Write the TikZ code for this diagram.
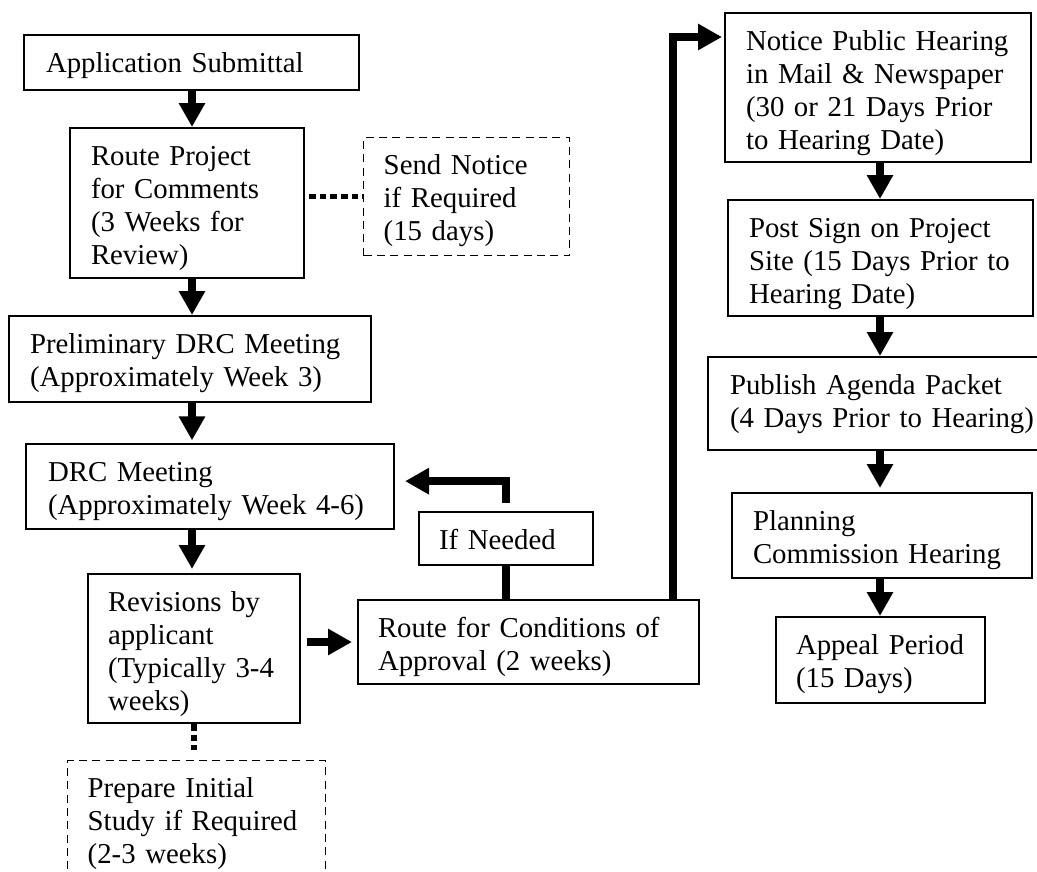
\documentclass[tikz,border=0pt]{standalone}
\usepackage{fontspec}
\setmainfont{Liberation Serif}
\usetikzlibrary{arrows.meta}

\begin{document}
\begin{tikzpicture}[x=0.75pt, y=-0.75pt,
		stage/.style={draw, line width=1.5pt, anchor=north west, align=left, inner ysep=0pt,
			text height=27.75pt, font=\fontsize{21.6}{24.75}\selectfont},
		optional/.style={stage, line width=1.1pt, dash pattern=on 6pt off 4pt},
		bigarrow/.style={line width=6pt, -{Triangle[length=18pt,width=18.75pt]}},
		bigline/.style={line width=6pt},
		dotlink/.style={line width=4pt, dash pattern=on 5pt off 3pt}]
		\useasboundingbox (0,0) rectangle (1037,871);
		\coordinate (lspine) at (192,0);
		\coordinate (rspine) at (880,0);
		% left column
		\node[stage, inner xsep=16.5pt, text width=218.25pt, text depth=13.5pt] (app) at (23,34) {Application Submittal};
		\node[stage, inner xsep=15.75pt, text width=144pt, text depth=84.75pt] (rtproj) at (69,127) {Route Project\\for Comments\\(3 Weeks for\\Review)};
		\node[optional, inner xsep=15pt, text width=124.5pt, text depth=60.75pt] (sendnote) at (363,137) {Send Notice\\if Required\\(15 days)};
		\node[stage, inner xsep=15.75pt, text width=240pt, text depth=36.75pt] (prelim) at (8,315) {Preliminary DRC Meeting\\(Approximately Week 3)};
		\node[stage, inner xsep=16.5pt, text width=243pt, text depth=36pt] (drc) at (25,443) {DRC Meeting\\(Approximately Week 4-6)};
		\node[stage, inner xsep=15pt, text width=129pt, text depth=84pt] (revise) at (87,573) {Revisions by\\applicant\\(Typically 3-4\\weeks)};
		\node[optional, inner xsep=15pt, text width=163.5pt, text depth=69.75pt] (prepare) at (67,760) {Prepare Initial\\Study if Required\\(2-3 weeks)};
		\node[stage, inner xsep=15pt, text width=100.5pt, text depth=12pt] (ifneed) at (418,511) {If Needed};
		\node[stage, inner xsep=15pt, text width=225.75pt, text depth=35.25pt] (route) at (357,599) {Route for Conditions of\\Approval (2 weeks)};
		% right column
		\node[stage, inner xsep=15.75pt, text width=198pt, text depth=84pt] (notice) at (724,12) {Notice Public Hearing\\in Mail \& Newspaper\\(30 or 21 Days Prior\\to Hearing Date)};
		\node[stage, inner xsep=15.75pt, text width=197.25pt, text depth=59.25pt] (post) at (727,199) {Post Sign on Project\\Site (15 Days Prior to\\Hearing Date)};
		\node[stage, inner xsep=16.5pt, text width=229.5pt, text depth=42pt] (publish) at (707,356) {Publish Agenda Packet\\(4 Days Prior to Hearing)};
		\node[stage, inner xsep=15.75pt, text width=193.5pt, text depth=36pt] (planning) at (731,492) {Planning\\Commission Hearing};
		\node[stage, inner xsep=15pt, text width=126.75pt, text depth=36.75pt] (appeal) at (775,616) {Appeal Period\\(15 Days)};

		\draw[bigarrow] (app.south -| lspine) -- (rtproj.north -| lspine);
		\draw[bigarrow] (rtproj.south -| lspine) -- (prelim.north -| lspine);
		\draw[bigarrow, shorten >=2pt] (prelim.south -| lspine) -- (drc.north -| lspine);
		\draw[bigarrow, shorten >=3pt] (drc.south -| lspine) -- (revise.north -| lspine);
		\draw[dotlink, shorten <=3pt] (rtproj.east |- sendnote.west) -- (sendnote.west);
		\draw[dotlink, shorten >=7.5pt] (revise.south) -- (revise.south |- prepare.north);
		\draw[bigarrow, shorten <=4.5pt, shorten >=3.75pt] (revise.east |- route.west) -- (route.west);
		\draw[bigline] (route.north -| ifneed.south) -- (ifneed.south);
		\draw[bigarrow, shorten <=6pt, shorten >=7.5pt] (ifneed.north) |- ([yshift=4pt]drc.east);
		\draw[bigarrow, shorten >=1.5pt] ([xshift=-20.25pt]route.north east) |- ([yshift=-18.75pt]notice.north west);
		\draw[bigarrow] (notice.south -| rspine) -- (post.north -| rspine);
		\draw[bigarrow] (post.south -| rspine) -- (publish.north -| rspine);
		\draw[bigarrow, shorten >=3pt] (publish.south -| rspine) -- (planning.north -| rspine);
		\draw[bigarrow] (planning.south -| rspine) -- (appeal.north -| rspine);
\end{tikzpicture}
\end{document}
